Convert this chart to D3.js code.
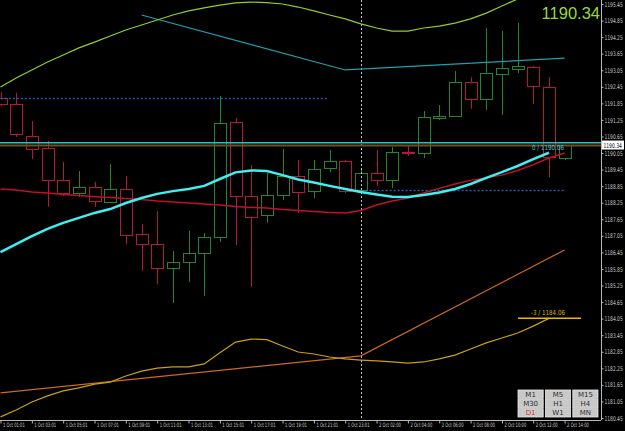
<!DOCTYPE html>
<html>
<head>
<meta charset="utf-8">
<script src="https://cdn.jsdelivr.net/npm/d3@7/dist/d3.min.js"></script>
<style>
body { margin: 0; background: #000; overflow: hidden; }
svg { display: block; }
</style>
</head>
<body>
<svg id="chart" width="625" height="431"></svg>
<script>
// H1 bars, 1 Oct 01:01 .. 2 Oct 14:00
var open  = [1192.04,1191.83,1190.67,1190.23,1189.07,1188.60,1188.82,1188.28,1188.75,1187.12,1186.75,1185.89,1186.10,1186.43,1187.01,1191.17,1188.49,1187.81,1188.53,1189.22,1188.67,1189.51,1189.76,1188.71,1189.33,1189.07,1190.09,1190.05,1191.32,1191.39,1192.62,1192.01,1192.91,1193.09,1193.17,1192.44,1189.87];
var high  = [1192.26,1192.23,1191.21,1190.49,1189.73,1189.40,1189.00,1189.65,1189.22,1187.48,1187.95,1186.50,1187.23,1187.15,1192.12,1191.32,1189.62,1189.33,1190.20,1189.80,1189.80,1190.16,1189.80,1189.44,1190.16,1190.27,1190.30,1191.57,1191.79,1193.02,1192.80,1194.58,1194.47,1194.76,1193.20,1192.80,1190.34];
var low   = [1191.75,1190.63,1189.83,1188.10,1188.49,1188.46,1188.10,1188.24,1186.75,1185.78,1185.31,1184.62,1185.38,1184.87,1186.83,1186.72,1185.20,1187.52,1188.35,1187.88,1188.42,1189.36,1188.60,1188.64,1188.86,1188.78,1189.94,1189.87,1191.25,1191.36,1191.65,1191.61,1191.43,1192.95,1191.83,1189.18,1189.80];
var close = [1191.83,1190.74,1190.20,1189.07,1188.60,1188.82,1188.31,1188.75,1187.08,1186.75,1185.89,1186.10,1186.43,1187.01,1191.14,1188.49,1187.73,1188.53,1189.22,1188.64,1189.47,1189.76,1188.67,1189.33,1189.07,1190.09,1190.05,1191.36,1191.39,1192.62,1192.01,1192.95,1193.13,1193.20,1192.48,1189.91,1190.34];

// bollinger (deviation 3)
var bandMid   = [1186.46,1186.75,1187.04,1187.30,1187.52,1187.70,1187.88,1188.02,1188.24,1188.42,1188.57,1188.67,1188.75,1188.86,1189.11,1189.35,1189.42,1189.40,1189.25,1189.09,1188.98,1188.86,1188.75,1188.64,1188.55,1188.47,1188.46,1188.53,1188.62,1188.75,1188.93,1189.15,1189.36,1189.58,1189.83,1190.06,null];
var bandUpper = [1192.44,1192.77,1193.06,1193.35,1193.60,1193.86,1194.07,1194.29,1194.51,1194.69,1194.87,1195.05,1195.20,1195.31,1195.41,1195.49,1195.52,1195.50,1195.45,1195.34,1195.20,1195.05,1194.91,1194.73,1194.58,1194.47,1194.47,1194.58,1194.65,1194.76,1194.91,1195.12,1195.38,1195.63,1195.89,1196.06,null];
var bandLower = [1180.49,1180.74,1181.03,1181.25,1181.43,1181.54,1181.68,1181.75,1181.97,1182.15,1182.26,1182.30,1182.30,1182.41,1182.81,1183.20,1183.31,1183.29,1183.06,1182.84,1182.77,1182.66,1182.59,1182.55,1182.52,1182.48,1182.44,1182.48,1182.59,1182.73,1182.95,1183.17,1183.35,1183.53,1183.78,1184.06,null];
var maRed     = [1188.75,1188.71,1188.64,1188.60,1188.55,1188.51,1188.47,1188.44,1188.40,1188.37,1188.31,1188.28,1188.24,1188.20,1188.17,1188.11,1188.08,1188.06,1188.00,1187.97,1187.93,1187.90,1187.88,1187.97,1188.17,1188.31,1188.42,1188.60,1188.77,1188.93,1189.06,1189.15,1189.25,1189.42,1189.63,1189.87,1190.05];

// straight lines: bar index / price
var tealBars = [9, 22, 36],   tealVals = [1195.05, 1193.06, 1193.49];
var orangeBars = [0, 23, 36], orangeVals = [1181.36, 1182.70, 1186.54];

var dayOpen = [1192.04, 1188.71];
var dayOpenSpan = [[-1, 20.9], [23.3, 36]];
var separatorBar = 23;
var askLevel = 1190.42, bidLevel = 1190.34;
var bandLabels = ["0 / 1190.06", "-3 / 1184.06"];
var bandLabelVals = [1190.06, 1184.06];

var timeLabels = ["1 Oct 01:01","1 Oct 03:01","1 Oct 05:01","1 Oct 07:01","1 Oct 09:01","1 Oct 11:01","1 Oct 13:01","1 Oct 15:01","1 Oct 17:01","1 Oct 19:01","1 Oct 21:01","1 Oct 23:01","2 Oct 02:00","2 Oct 04:00","2 Oct 06:00","2 Oct 08:00","2 Oct 10:00","2 Oct 12:00","2 Oct 14:00"];
var priceTicks = [1195.45,1194.85,1194.25,1193.65,1193.05,1192.45,1191.85,1191.25,1190.65,1190.05,1189.45,1188.85,1188.25,1187.65,1187.05,1186.45,1185.85,1185.25,1184.65,1184.05,1183.45,1182.85,1182.25,1181.65,1181.05,1180.45];
var periods = ["M1","M5","M15","M30","H1","H4","D1","W1","MN"];
var activePeriod = "D1";

var plotW = 601, plotH = 420;
var sx = 0.68;   // horizontal squeeze for the tiny axis font
var svg = d3.select("#chart");
svg.append("rect").attr("width", 625).attr("height", 431).attr("fill", "#000");

var x = d3.scaleLinear().domain([0, 36]).range([0.5, 564.6]);
var y = d3.scaleLinear().domain([1180.45, 1195.45]).range([418, 4]);

svg.append("clipPath").attr("id", "plot")
  .append("rect").attr("width", plotW).attr("height", plotH);

var g = svg.append("g").attr("clip-path", "url(#plot)");

var bars = open.map(function(o, i) {
  return {i: i, o: o, h: high[i], l: low[i], c: close[i]};
});
var upCol = "#24862a", dnCol = "#b4183c";
var px = function(i) { return Math.round(x(i)) + 0.5; };

// candles
g.selectAll("line.wick").data(bars).join("line")
  .attr("class", "wick")
  .attr("x1", function(d) { return px(d.i); })
  .attr("x2", function(d) { return px(d.i); })
  .attr("y1", function(d) { return y(d.h); })
  .attr("y2", function(d) { return y(d.l); })
  .attr("stroke", function(d) { return d.c >= d.o ? upCol : dnCol; })
  .attr("stroke-width", 1);

g.selectAll("rect.body").data(bars).join("rect")
  .attr("class", "body")
  .attr("x", function(d) { return px(d.i) - 6; })
  .attr("width", 12)
  .attr("y", function(d) { return Math.round(y(Math.max(d.o, d.c))) + 0.5; })
  .attr("height", function(d) { return Math.max(1, Math.round(Math.abs(y(d.o) - y(d.c)))); })
  .attr("fill", "#000")
  .attr("stroke", function(d) { return d.c >= d.o ? upCol : dnCol; })
  .attr("stroke-width", 1);

// day open levels
dayOpen.forEach(function(v, k) {
  g.append("line")
    .attr("x1", x(dayOpenSpan[k][0])).attr("x2", x(dayOpenSpan[k][1]))
    .attr("y1", Math.round(y(v)) + 0.5).attr("y2", Math.round(y(v)) + 0.5)
    .attr("stroke", "#2a5db4").attr("stroke-width", 1.5)
    .attr("stroke-dasharray", "2,2");
});

// period separator
g.append("line")
  .attr("x1", px(separatorBar)).attr("x2", px(separatorBar))
  .attr("y1", 0).attr("y2", plotH)
  .attr("stroke", "#c8c8c8").attr("stroke-dasharray", "2,2");

var line = d3.line()
  .defined(function(d) { return d != null; })
  .x(function(d, i) { return x(i); })
  .y(function(d) { return y(d); });

var ptLine = d3.line()
  .x(function(d) { return x(d[0]); })
  .y(function(d) { return y(d[1]); });

g.append("path").attr("d", ptLine(d3.zip(tealBars, tealVals)))
  .attr("fill", "none").attr("stroke", "#1f9fae").attr("stroke-width", 1.2);
g.append("path").attr("d", ptLine(d3.zip(orangeBars, orangeVals)))
  .attr("fill", "none").attr("stroke", "#cc6a1c").attr("stroke-width", 1.2);

g.append("path").attr("d", line(bandUpper))
  .attr("fill", "none").attr("stroke", "#8fcf2c").attr("stroke-width", 1.2);
g.append("path").attr("d", line(bandLower))
  .attr("fill", "none").attr("stroke", "#c9a012").attr("stroke-width", 1.2);
g.append("path").attr("d", line(maRed))
  .attr("fill", "none").attr("stroke", "#c0102a").attr("stroke-width", 1.5);

// ask / bid lines
g.append("line").attr("x1", 0).attr("x2", plotW)
  .attr("y1", y(askLevel)).attr("y2", y(askLevel))
  .attr("stroke", "#2cc0cc").attr("stroke-width", 1.5);
g.append("line").attr("x1", 0).attr("x2", plotW)
  .attr("y1", y(bidLevel) + 0.5).attr("y2", y(bidLevel) + 0.5)
  .attr("stroke", "#6e4e1e").attr("stroke-width", 2);

g.append("path").attr("d", line(bandMid))
  .attr("fill", "none").attr("stroke", "#3ef0f0").attr("stroke-width", 2.5);

// lower band level marker
g.append("line")
  .attr("x1", 518).attr("x2", 581)
  .attr("y1", y(bandLabelVals[1])).attr("y2", y(bandLabelVals[1]))
  .attr("stroke", "#f4b400").attr("stroke-width", 1.5);

g.selectAll("text.blab").data(bandLabels).join("text")
  .attr("class", "blab")
  .attr("transform", function(d, k) { return "translate(548," + (y(bandLabelVals[k]) - 3) + ") scale(0.8,1)"; })
  .attr("text-anchor", "middle")
  .attr("font-family", "DejaVu Sans").attr("font-size", 7)
  .attr("fill", function(d, k) { return k ? "#d8b010" : "#3cc8d8"; })
  .text(function(d) { return d; });

// big bid
svg.append("text")
  .attr("x", 600).attr("y", 19).attr("text-anchor", "end")
  .attr("font-family", "Liberation Sans, Arial").attr("font-size", 16.5)
  .attr("fill", "#9ad834")
  .text(close[close.length - 1].toFixed(2));

// axes frame
svg.append("line").attr("x1", plotW + 0.5).attr("x2", plotW + 0.5)
  .attr("y1", 0).attr("y2", plotH).attr("stroke", "#b8b8b8");
svg.append("line").attr("x1", 0).attr("x2", plotW)
  .attr("y1", plotH + 0.5).attr("y2", plotH + 0.5).attr("stroke", "#b8b8b8");

var yAxis = svg.append("g").attr("transform", "translate(" + (plotW + 0.5) + ",0)")
  .call(d3.axisRight(y).tickValues(priceTicks).tickSize(2).tickPadding(1)
    .tickFormat(function(d) { return d.toFixed(2); }));
yAxis.select(".domain").remove();
yAxis.selectAll("line").attr("stroke", "#b8b8b8");
yAxis.selectAll("text")
  .attr("x", 3 / sx).attr("transform", "scale(" + sx + ",1)")
  .attr("fill", "#c8c8c8").attr("font-family", "DejaVu Sans").attr("font-size", 6.5);

// bid box on price axis
svg.append("rect").attr("x", 602).attr("y", y(bidLevel) - 4.5)
  .attr("width", 22).attr("height", 9).attr("fill", "#fff");
svg.append("text")
  .attr("transform", "translate(603.5," + (y(bidLevel) + 2.5) + ") scale(" + sx + ",1)")
  .attr("font-family", "DejaVu Sans").attr("font-size", 6.5)
  .attr("fill", "#000").text(bidLevel.toFixed(2));

var xAxis = svg.append("g").attr("transform", "translate(0," + (plotH + 0.5) + ")")
  .call(d3.axisBottom(x).tickValues(timeLabels.map(function(d, k) { return 2 * k; }))
    .tickSize(3).tickFormat(function(d) { return timeLabels[d / 2]; }));
xAxis.select(".domain").remove();
xAxis.selectAll(".tick line").attr("stroke", "#b8b8b8");
xAxis.selectAll(".tick text")
  .attr("text-anchor", "start").attr("x", 2 / 0.62).attr("y", 3).attr("dy", "0.6em")
  .attr("transform", "scale(0.62,1)")
  .attr("fill", "#c8c8c8").attr("font-family", "DejaVu Sans").attr("font-size", 6);

// period buttons
var bx = d3.scaleBand().domain([0, 1, 2]).range([518, 598]).paddingInner(0.08);
var by = d3.scaleBand().domain([0, 1, 2]).range([390, 417]).paddingInner(0.1);
var btn = svg.append("g").selectAll("g").data(periods).join("g")
  .attr("transform", function(d, k) { return "translate(" + bx(k % 3) + "," + by(Math.floor(k / 3)) + ")"; });
btn.append("rect")
  .attr("width", bx.bandwidth()).attr("height", by.bandwidth())
  .attr("fill", "#c8c8c8").attr("stroke", "#e8e8e8").attr("stroke-width", 0.8);
btn.append("text")
  .attr("x", bx.bandwidth() / 2).attr("y", by.bandwidth() / 2 + 2.5)
  .attr("text-anchor", "middle")
  .attr("font-family", "DejaVu Sans").attr("font-size", 7)
  .attr("fill", function(d) { return d === activePeriod ? "#e03030" : "#303030"; })
  .text(function(d) { return d; });
</script>
</body>
</html>
